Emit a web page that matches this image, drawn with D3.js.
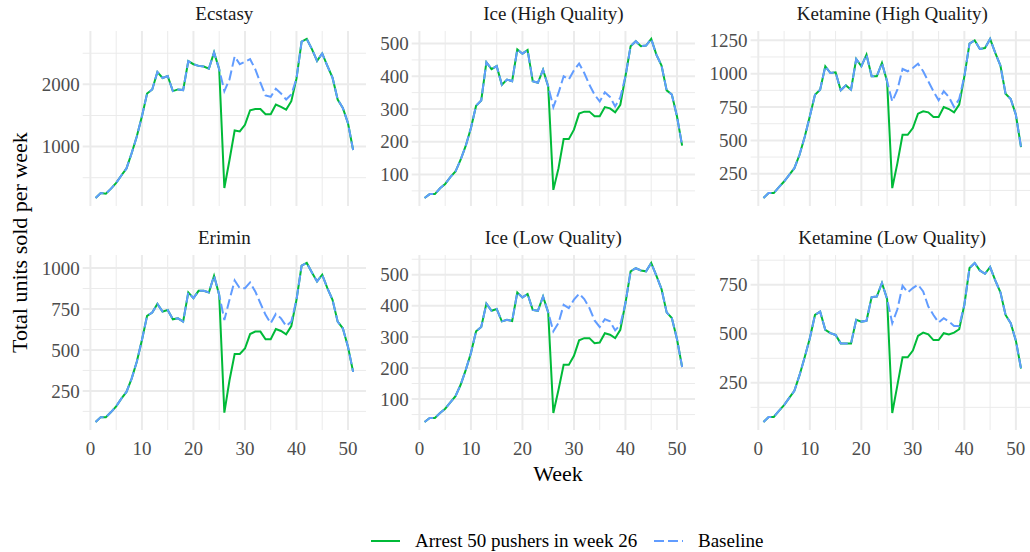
<!DOCTYPE html>
<html>
<head>
<meta charset="utf-8">
<script src="https://cdn.jsdelivr.net/npm/d3@7"></script>
<style>
  body { margin: 0; background: #fff; }
  text { font-family: "Liberation Serif", "DejaVu Serif", serif; }
</style>
</head>
<body>
<svg id="canvas"></svg>
<script>
// Weeks and panels
const weeks = d3.range(1, 52);
const drugs = ["Ecstasy", "Ice (High Quality)", "Ketamine (High Quality)",
               "Erimin", "Ice (Low Quality)", "Ketamine (Low Quality)"];

// Arrest scenario, weeks 1-51
const ecstasyArrest = [173,254,243,324,416,535,649,892,1162,1486,1854,1919,2200,2103,2135,1892,1919,1908,2373,2324,2297,2286,2254,2513,2243,
  335,784,1259,1243,1351,1584,1605,1605,1519,1519,1676,1638,1595,1730,
  2092,2686,2730,2567,2378,2497,2297,2108,1757,1622,1378,946];
const iceHighArrest = [28,40,40,58,71,92,109,145,188,242,310,326,443,422,431,374,390,385,482,469,480,385,380,420,369,
  53,119,208,208,237,286,292,292,278,278,306,302,290,313,
  400,492,507,492,494,514,466,433,357,344,278,188];
const ketHighArrest = [68,105,105,150,192,242,292,392,525,680,842,880,1055,1005,1010,875,912,880,1110,1055,1142,980,980,1080,942,
  142,330,542,542,592,700,718,710,675,675,750,735,710,768,
  980,1225,1250,1185,1192,1260,1155,1060,850,810,692,450];
const eriminArrest = [60,90,90,121,156,203,244,325,428,561,708,728,781,734,744,687,693,673,851,816,861,861,851,953,836,
  117,315,475,475,509,597,612,612,565,565,628,616,595,646,
  806,1014,1031,973,918,959,877,806,673,632,520,366];
const iceLowArrest = [26,39,39,55,69,89,109,146,194,248,318,332,407,384,390,350,355,351,443,427,438,387,384,430,379,
  55,130,210,210,239,289,296,296,280,282,312,307,296,323,
  409,511,521,514,511,538,497,454,379,361,293,203];
const ketLowArrest = [50,76,76,107,136,173,209,289,380,477,596,613,520,503,494,451,451,451,571,562,566,687,690,759,677,
  96,238,380,380,414,489,506,497,468,468,503,497,506,523,
  648,835,861,823,806,840,772,711,596,554,465,323];

// Baseline differs from the arrest scenario only in weeks 26-39
const baselineStart = 26;
const ecstasyBase = [1892,2081,2449,2324,2362,2405,2243,2027,1822,1800,1930,1854,1757,1838];
const iceHighBase = [306,349,400,390,418,439,410,374,344,323,351,337,308,335];
const ketHighBase = [792,880,1035,1018,1042,1075,1018,942,868,800,868,825,750,810];
const eriminBase = [683,806,924,877,877,912,857,785,714,663,720,693,646,673];
const iceLowBase = [318,345,403,393,420,439,422,393,353,332,357,350,321,339];
const ketLowBase = [554,625,745,711,733,750,716,639,596,557,579,562,540,540];

// y tick labels per panel
const yTicks = [
  [1000, 2000],
  [100, 200, 300, 400, 500],
  [250, 500, 750, 1000, 1250],
  [250, 500, 750, 1000],
  [100, 200, 300, 400, 500],
  [250, 500, 750]
];
const xTicks = [0, 10, 20, 30, 40, 50];
const seriesNames = ["Arrest 50 pushers in week 26", "Baseline"];

const arrests = [ecstasyArrest, iceHighArrest, ketHighArrest, eriminArrest, iceLowArrest, ketLowArrest];
const bases = [ecstasyBase, iceHighBase, ketHighBase, eriminBase, iceLowBase, ketLowBase];

const W = 1030, H = 552;
const colLeft = [82.7, 411.7, 750.6];
const rowTop = [31, 255];
const pw = 283.3, ph = 175;
const green = "#00BA38", blue = "#619CFF", gridCol = "#EBEBEB";

const svg = d3.select("#canvas").attr("width", W).attr("height", H);

drugs.forEach((name, i) => {
  const arrest = arrests[i];
  const baseline = arrest.map((v, k) => {
    const j = weeks[k] - baselineStart;
    return (j >= 0 && j < bases[i].length) ? bases[i][j] : v;
  });
  const left = colLeft[i % 3], top = rowTop[Math.floor(i / 3)];

  const x = d3.scaleLinear().domain([-1.5, 53.5]).range([left, left + pw]);
  const all = arrest.concat(baseline);
  const lo = d3.min(all), hi = d3.max(all), pad = (hi - lo) * 0.05;
  const y = d3.scaleLinear().domain([lo - pad, hi + pad]).range([top + ph, top]);

  const g = svg.append("g");

  // minor grid
  const ystep = yTicks[i][1] - yTicks[i][0];
  const yMinor = d3.range(yTicks[i][0] - ystep / 2, yTicks[i][yTicks[i].length - 1] + ystep, ystep)
    .filter(v => v >= y.domain()[0] && v <= y.domain()[1]);
  const xMinor = d3.range(5, 50, 10);
  g.selectAll(".ym").data(yMinor).enter().append("line")
    .attr("x1", left).attr("x2", left + pw).attr("y1", d => y(d)).attr("y2", d => y(d))
    .attr("stroke", gridCol).attr("stroke-width", 1);
  g.selectAll(".xm").data(xMinor).enter().append("line")
    .attr("y1", top).attr("y2", top + ph).attr("x1", d => x(d)).attr("x2", d => x(d))
    .attr("stroke", gridCol).attr("stroke-width", 1);
  // major grid
  g.selectAll(".yM").data(yTicks[i]).enter().append("line")
    .attr("x1", left).attr("x2", left + pw).attr("y1", d => y(d)).attr("y2", d => y(d))
    .attr("stroke", gridCol).attr("stroke-width", 2);
  g.selectAll(".xM").data(xTicks).enter().append("line")
    .attr("y1", top).attr("y2", top + ph).attr("x1", d => x(d)).attr("x2", d => x(d))
    .attr("stroke", gridCol).attr("stroke-width", 2);

  // y tick labels
  g.selectAll(".yl").data(yTicks[i]).enter().append("text")
    .attr("x", left - 3).attr("y", d => y(d)).attr("dy", "0.35em")
    .attr("text-anchor", "end").attr("font-size", 19).attr("fill", "#4D4D4D")
    .text(d => d);

  // x tick labels, bottom row only
  if (i >= 3) {
    g.selectAll(".xl").data(xTicks).enter().append("text")
      .attr("x", d => x(d)).attr("y", top + ph + 25)
      .attr("text-anchor", "middle").attr("font-size", 19).attr("fill", "#4D4D4D")
      .text(d => d);
  }

  // strip title
  g.append("text").attr("x", left + pw / 2).attr("y", top - 11)
    .attr("text-anchor", "middle").attr("font-size", 19).attr("fill", "#1A1A1A")
    .text(name);

  const line = d3.line().x((d, k) => x(weeks[k])).y(d => y(d));
  g.append("path").attr("d", line(arrest)).attr("fill", "none")
    .attr("stroke", green).attr("stroke-width", 2);
  g.append("path").attr("d", line(baseline)).attr("fill", "none")
    .attr("stroke", blue).attr("stroke-width", 2).attr("stroke-dasharray", "10,4");
});

// axis titles
svg.append("text").attr("x", 558).attr("y", 481).attr("text-anchor", "middle")
  .attr("font-size", 22).text("Week");
svg.append("text").attr("transform", "translate(27,353) rotate(-90)")
  .attr("text-anchor", "start").attr("font-size", 22).text("Total units sold per week");

// legend
const legend = svg.append("g");
const keyX = [371, 654], textX = [415, 698];
seriesNames.forEach((s, k) => {
  legend.append("line").attr("x1", keyX[k]).attr("x2", keyX[k] + 29)
    .attr("y1", 541).attr("y2", 541)
    .attr("stroke", k === 0 ? green : blue).attr("stroke-width", 2)
    .attr("stroke-dasharray", k === 0 ? null : "10,4");
  legend.append("text").attr("x", textX[k]).attr("y", 547)
    .attr("font-size", 19).text(s);
});
</script>
</body>
</html>
